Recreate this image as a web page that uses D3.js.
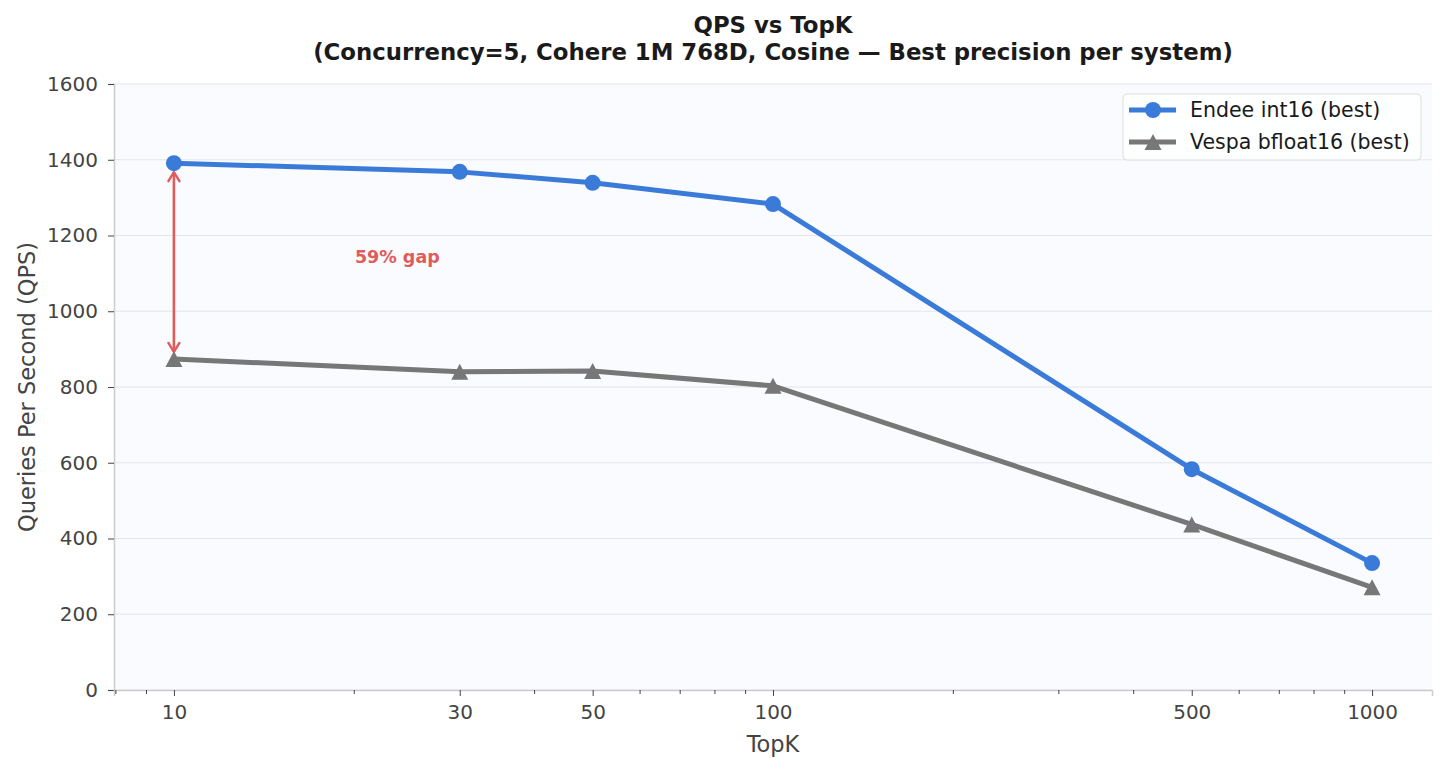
<!DOCTYPE html>
<html>
<head>
<meta charset="utf-8">
<script src="https://cdn.jsdelivr.net/npm/d3@7"></script>
<style>
  body { margin: 0; background: #fff; }
  svg text { font-family: "DejaVu Sans", "Noto Sans", sans-serif !important; }
</style>
</head>
<body>
<svg id="chart" width="1447" height="771"></svg>
<script>
// data
var topK = [10, 30, 50, 100, 500, 1000];
var endee = [1391, 1368, 1339, 1283, 583, 335];
var vespa = [874, 840, 842, 803, 437, 271];
var yTicks = [0, 200, 400, 600, 800, 1000, 1200, 1400, 1600];
var minorTicks = [8, 9, 20, 40, 60, 70, 80, 90, 200, 300, 400, 600, 700, 800, 900];
var seriesNames = ["Endee int16 (best)", "Vespa bfloat16 (best)"];

var svg = d3.select("#chart");
var margin = {top: 84, right: 15, bottom: 81, left: 114};
var width = 1447 - margin.left - margin.right;
var height = 771 - margin.top - margin.bottom;
var g = svg.append("g").attr("transform", "translate(" + margin.left + "," + margin.top + ")");

var x = d3.scaleLog()
    .domain([Math.pow(10, 0.9), Math.pow(10, 3.1)])
    .range([0, width]);

var y = d3.scaleLinear()
    .domain([0, 1600])
    .range([height, 0]);

// plot background
g.append("rect")
    .attr("width", width)
    .attr("height", height)
    .attr("fill", "#f9fbfe");

// horizontal grid
g.selectAll(".grid")
  .data(yTicks)
  .enter().append("line")
    .attr("class", "grid")
    .attr("x1", 0)
    .attr("x2", width)
    .attr("y1", function(d) { return y(d); })
    .attr("y2", function(d) { return y(d); })
    .attr("stroke", "#e3e6ea")
    .attr("stroke-width", 1.2);

// y axis
var yAxis = g.append("g")
    .call(d3.axisLeft(y).tickValues(yTicks).tickFormat(d3.format("d")).tickSize(6).tickPadding(10));
yAxis.select(".domain").attr("stroke", "#cccccc").attr("stroke-width", 1.5);
yAxis.selectAll(".tick line").attr("stroke", "#444");
yAxis.selectAll("text").attr("fill", "#444").style("font-size", "20px");

// x axis
var xAxis = g.append("g")
    .attr("transform", "translate(0," + height + ")")
    .call(d3.axisBottom(x).tickValues(topK).tickFormat(d3.format("d")).tickSize(6).tickPadding(9));
xAxis.select(".domain").attr("stroke", "#cccccc").attr("stroke-width", 1.5);
xAxis.selectAll(".tick line").attr("stroke", "#444");
xAxis.selectAll("text").attr("fill", "#444").style("font-size", "20px");

g.append("g")
    .attr("transform", "translate(0," + height + ")")
  .selectAll("line")
  .data(minorTicks)
  .enter().append("line")
    .attr("x1", function(d) { return x(d); })
    .attr("x2", function(d) { return x(d); })
    .attr("y1", 0)
    .attr("y2", 4)
    .attr("stroke", "#444")
    .attr("stroke-width", 1);

// axis labels
svg.append("text")
    .attr("x", margin.left + width / 2)
    .attr("y", 752)
    .attr("text-anchor", "middle")
    .attr("fill", "#444")
    .style("font-size", "22.5px")
    .text("TopK");

svg.append("text")
    .attr("transform", "translate(35," + (margin.top + height / 2) + ") rotate(-90)")
    .attr("text-anchor", "middle")
    .attr("fill", "#444")
    .style("font-size", "22.5px")
    .text("Queries Per Second (QPS)");

// title
svg.append("text")
    .attr("x", 773)
    .attr("y", 33)
    .attr("text-anchor", "middle")
    .attr("fill", "#1a1a1a")
    .style("font-size", "22.8px")
    .style("font-weight", "bold")
    .text("QPS vs TopK");
svg.append("text")
    .attr("x", 773)
    .attr("y", 60)
    .attr("text-anchor", "middle")
    .attr("fill", "#1a1a1a")
    .style("font-size", "22.8px")
    .style("font-weight", "bold")
    .text("(Concurrency=5, Cohere 1M 768D, Cosine \u2014 Best precision per system)");

// gap annotation arrow
svg.append("defs").append("marker")
    .attr("id", "arrowhead")
    .attr("viewBox", "0 0 12 14")
    .attr("refX", 11)
    .attr("refY", 7)
    .attr("markerWidth", 12)
    .attr("markerHeight", 14)
    .attr("markerUnits", "userSpaceOnUse")
    .attr("orient", "auto-start-reverse")
  .append("path")
    .attr("d", "M2,1.5 L11,7 L2,12.5")
    .attr("fill", "none")
    .attr("stroke", "#e05c5c")
    .attr("stroke-width", 2.4)
    .attr("stroke-linecap", "round")
    .attr("stroke-linejoin", "round");

g.append("line")
    .attr("x1", x(topK[0]))
    .attr("x2", x(topK[0]))
    .attr("y1", y(endee[0]) + 9)
    .attr("y2", y(vespa[0]) - 7)
    .attr("stroke", "#e05c5c")
    .attr("stroke-width", 2.6)
    .attr("marker-start", "url(#arrowhead)")
    .attr("marker-end", "url(#arrowhead)");

var gapPct = Math.round((endee[0] / vespa[0] - 1) * 100);
g.append("text")
    .attr("x", x(23.6))
    .attr("y", y(1143))
    .attr("text-anchor", "middle")
    .attr("dy", "0.35em")
    .attr("fill", "#e05c5c")
    .style("font-size", "17.5px")
    .style("font-weight", "bold")
    .text(gapPct + "% gap");

// lines
var line = d3.line()
    .x(function(d, i) { return x(topK[i]); })
    .y(function(d) { return y(d); });

g.append("path")
    .datum(vespa)
    .attr("fill", "none")
    .attr("stroke", "#777777")
    .attr("stroke-width", 5)
    .attr("stroke-linejoin", "round")
    .attr("d", line);

// matplotlib-style '^' marker: as wide as tall, centred on mid-height
var tri = "M0,-8L8.5,8L-8.5,8Z";
g.selectAll(".vdot")
  .data(vespa)
  .enter().append("path")
    .attr("class", "vdot")
    .attr("transform", function(d, i) { return "translate(" + x(topK[i]) + "," + y(d) + ")"; })
    .attr("d", tri)
    .attr("fill", "#777777");

g.append("path")
    .datum(endee)
    .attr("fill", "none")
    .attr("stroke", "#3a7bd9")
    .attr("stroke-width", 5)
    .attr("stroke-linejoin", "round")
    .attr("d", line);

g.selectAll(".edot")
  .data(endee)
  .enter().append("circle")
    .attr("class", "edot")
    .attr("cx", function(d, i) { return x(topK[i]); })
    .attr("cy", function(d) { return y(d); })
    .attr("r", 8)
    .attr("fill", "#3a7bd9");

// legend
var legend = svg.append("g").attr("transform", "translate(1123,94)");
legend.append("rect")
    .attr("width", 298)
    .attr("height", 66)
    .attr("rx", 4)
    .attr("fill", "#ffffff")
    .attr("fill-opacity", 0.85)
    .attr("stroke", "#dddddd");

var legendColors = ["#3a7bd9", "#777777"];
seriesNames.forEach(function(name, i) {
  var row = legend.append("g").attr("transform", "translate(0," + (16 + i * 32) + ")");
  row.append("line")
      .attr("x1", 6).attr("x2", 53)
      .attr("stroke", legendColors[i])
      .attr("stroke-width", 5);
  if (i === 0) {
    row.append("circle").attr("cx", 30).attr("r", 8).attr("fill", legendColors[i]);
  } else {
    row.append("path").attr("transform", "translate(30,0)").attr("d", tri).attr("fill", legendColors[i]);
  }
  row.append("text")
      .attr("x", 67)
      .attr("dy", "0.35em")
      .attr("fill", "#1a1a1a")
      .style("font-size", "20.5px")
      .text(name);
});
</script>
</body>
</html>
